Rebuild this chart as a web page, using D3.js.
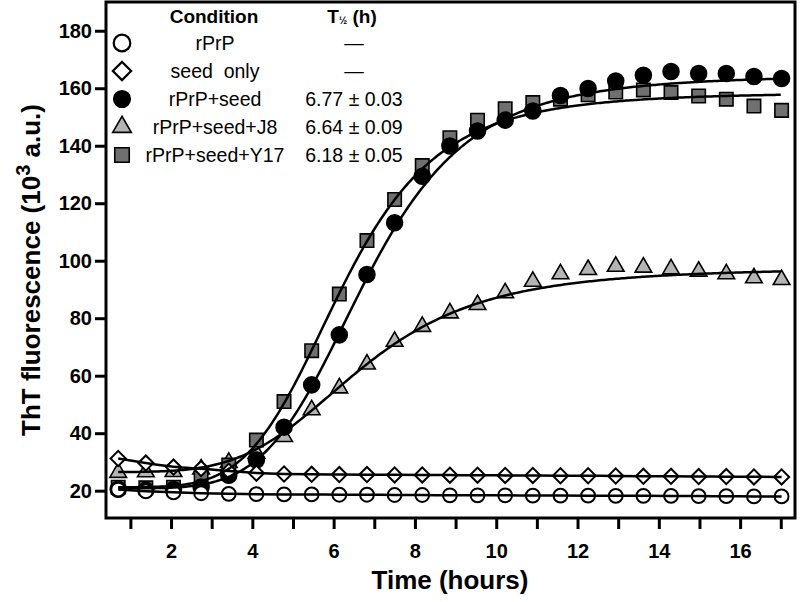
<!DOCTYPE html>
<html>
<head>
<meta charset="utf-8">
<script src="https://cdn.jsdelivr.net/npm/d3@7"></script>
<style>
  body { margin: 0; background: #fff; }
  svg { display: block; font-family: "Liberation Sans", Arial, sans-serif; }
</style>
</head>
<body>
<svg id="chart" width="800" height="602"></svg>
<script>
// sampling times (hours)
const times = [0.7, 1.38, 2.06, 2.74, 3.42, 4.1, 4.78, 5.46, 6.14, 6.82, 7.5, 8.18, 8.86,
               9.54, 10.22, 10.9, 11.58, 12.26, 12.94, 13.62, 14.3, 14.98, 15.66, 16.34, 17.02];

// ThT fluorescence (10^3 a.u.)
const rPrP      = [20.4, 19.8, 19.4, 19.1, 18.9, 18.8, 18.7, 18.7, 18.6, 18.6, 18.5, 18.5, 18.4,
                   18.4, 18.4, 18.3, 18.3, 18.3, 18.2, 18.2, 18.2, 18.1, 18.1, 18.0, 18.0];
const seedOnly  = [31.2, 29.6, 28.2, 27.7, 26.8, 26.1, 25.8, 25.7, 25.6, 25.6, 25.5, 25.5, 25.4,
                   25.4, 25.3, 25.3, 25.2, 25.2, 25.1, 25.0, 25.0, 24.9, 24.9, 24.8, 24.8];
const seed      = [20.5, 20.2, 20.4, 21.3, 25.4, 30.7, 42.1, 56.8, 74.2, 95.2, 113.2, 129.4, 139.9,
                   145.1, 148.9, 152.1, 157.5, 159.9, 162.5, 164.5, 165.8, 165.1, 165.1, 164.1, 163.4];
const seedJ8    = [26.3, 26.5, 26.6, 27.5, 29.8, 33.0, 38.8, 48.1, 55.7, 64.0, 71.9, 77.1, 81.8,
                   84.7, 88.8, 92.8, 95.4, 96.9, 98.0, 97.7, 97.1, 96.3, 95.4, 94.0, 93.4];
const seedY17   = [21.2, 21.0, 21.2, 24.5, 28.9, 37.6, 51.0, 68.7, 88.4, 107.0, 121.3, 133.1, 142.8,
                   148.9, 152.9, 155.0, 156.2, 157.7, 158.7, 159.4, 158.5, 157.3, 156.2, 153.8, 152.3];

const conditions = ["rPrP", "seed  only", "rPrP+seed", "rPrP+seed+J8", "rPrP+seed+Y17"];
const halfTimes  = ["\u2014", "\u2014", "6.77 \u00b1 0.03", "6.64 \u00b1 0.09", "6.18 \u00b1 0.05"];

// sigmoidal (Hill) fit parameters; null = smooth line through the points
const fitBase = [null, null, 20.8, 26.5, 21.2];
const fitTop  = [null, null, 164.5, 97.5, 158.5];
const fitHalf = [null, null, 6.77, 6.64, 6.18];
const fitHill = [null, null, 5.2, 4.3, 5.1];

const xTicks = [1, 2, 3, 4, 5, 6, 7, 8, 9, 10, 11, 12, 13, 14, 15, 16, 17];
const yTicks = [20, 40, 60, 80, 100, 120, 140, 160, 180];

const seriesValues = [rPrP, seedOnly, seed, seedJ8, seedY17];
const shapes = ["circle", "diamond", "circle", "triangle", "square"];
const fills  = ["#fff", "#fff", "#000", "#b4b4b4", "#707070"];
const sizes  = [150, 115, 200, 120, 180];

const svg = d3.select("#chart");
const plotLeft = 106, plotRight = 795, plotTop = 2, plotBottom = 518;

const x = d3.scaleLinear().domain([0.4, 17.35]).range([plotLeft, plotRight]);
const y = d3.scaleLinear().domain([10.5, 190]).range([plotBottom, plotTop]);

function symbolPath(shape, size) {
  if (shape === "circle") return d3.symbol(d3.symbolCircle, size)();
  if (shape === "triangle") return d3.symbol(d3.symbolTriangle, size)();
  return d3.symbol(d3.symbolSquare, size)();   // square, diamond (rotated)
}

// markers (drawn under the lines)
const drawOrder = [3, 4, 2, 1, 0];
drawOrder.forEach(i => {
  const pts = times.map((t, k) => ({t: t, v: seriesValues[i][k]}));
  svg.append("g")
    .selectAll("path")
    .data(pts)
    .enter().append("path")
      .attr("d", symbolPath(shapes[i], sizes[i]))
      .attr("transform", d => `translate(${x(d.t)},${y(d.v)})` + (shapes[i] === "diamond" ? " rotate(45)" : ""))
      .attr("fill", fills[i])
      .attr("stroke", "#000")
      .attr("stroke-width", i < 2 ? 2 : 1.6);
});

// lines
const line = d3.line().x(d => x(d.t)).y(d => y(d.v));
seriesValues.forEach((vals, i) => {
  let pts;
  if (fitBase[i] === null) {
    pts = times.map((t, k) => ({t: t, v: vals[k]}));
    line.curve(d3.curveBasis);
  } else {
    pts = d3.range(times[0], times[times.length - 1] + 0.001, 0.05).map(t => {
      const h = Math.pow(t / fitHalf[i], fitHill[i]);
      return {t: t, v: fitBase[i] + (fitTop[i] - fitBase[i]) * h / (1 + h)};
    });
    line.curve(d3.curveLinear);
  }
  svg.append("path")
    .attr("d", line(pts))
    .attr("fill", "none")
    .attr("stroke", "#000")
    .attr("stroke-width", 2.5);
});

// axes
const xAxis = svg.append("g")
    .attr("transform", `translate(0,${plotBottom})`)
    .call(d3.axisBottom(x).tickValues(xTicks).tickSize(11)
      .tickFormat(d => d % 2 === 0 ? d : ""));
xAxis.select(".domain").remove();
xAxis.selectAll(".tick line").attr("stroke-width", 3);
xAxis.selectAll(".tick text")
    .attr("dy", null).attr("y", 40)
    .attr("font-size", 20).attr("font-weight", "bold")
    .attr("font-family", "'Liberation Sans', Arial, sans-serif");

const yAxis = svg.append("g")
    .attr("transform", `translate(${plotLeft},0)`)
    .call(d3.axisLeft(y).tickValues(yTicks).tickSize(11).tickPadding(3));
yAxis.select(".domain").remove();
yAxis.selectAll(".tick line").attr("stroke-width", 3);
yAxis.selectAll(".tick text")
    .attr("font-size", 20).attr("font-weight", "bold")
    .attr("font-family", "'Liberation Sans', Arial, sans-serif");

// frame
svg.append("rect")
  .attr("x", plotLeft).attr("y", plotTop)
  .attr("width", plotRight - plotLeft).attr("height", plotBottom - plotTop)
  .attr("fill", "none").attr("stroke", "#000").attr("stroke-width", 3);

// axis titles
svg.append("text")
  .attr("x", 450).attr("y", 589)
  .attr("text-anchor", "middle")
  .attr("font-size", 26).attr("font-weight", "bold")
  .text("Time (hours)");

const yTitle = svg.append("text")
  .attr("transform", "translate(40,270) rotate(-90)")
  .attr("text-anchor", "middle")
  .attr("font-size", 26).attr("font-weight", "bold");
yTitle.append("tspan").text("ThT fluorescence (10");
yTitle.append("tspan").attr("dy", -10).attr("font-size", 20).text("3");
yTitle.append("tspan").attr("dy", 10).text(" a.u.)");

// legend
const legend = svg.append("g");
legend.append("text")
  .attr("x", 214).attr("y", 23).attr("text-anchor", "middle")
  .attr("font-size", 19).attr("font-weight", "bold")
  .text("Condition");
const th = legend.append("text")
  .attr("x", 352).attr("y", 23).attr("text-anchor", "middle")
  .attr("font-size", 19).attr("font-weight", "bold");
th.append("tspan").text("T");
th.append("tspan").attr("font-size", 10).attr("dy", 1).text("\u00bd");
th.append("tspan").attr("dy", -1).text(" (h)");

const rowY = d3.scaleLinear().domain([0, 4]).range([43, 155]);
const legendSizes = [217, 167, 217, 150, 210];
conditions.forEach((c, i) => {
  legend.append("path")
    .attr("d", symbolPath(shapes[i], legendSizes[i]))
    .attr("transform", `translate(122,${rowY(i)})` + (shapes[i] === "diamond" ? " rotate(45)" : ""))
    .attr("fill", fills[i])
    .attr("stroke", "#000")
    .attr("stroke-width", i < 2 ? 2.2 : 1.6);
  legend.append("text")
    .attr("x", 215).attr("y", rowY(i) + 7)
    .attr("text-anchor", "middle")
    .attr("font-size", 19.5)
    .style("white-space", "pre")
    .text(c);
  legend.append("text")
    .attr("x", 354).attr("y", rowY(i) + 7)
    .attr("text-anchor", "middle")
    .attr("font-size", 19.5)
    .text(halfTimes[i]);
});
</script>
</body>
</html>
